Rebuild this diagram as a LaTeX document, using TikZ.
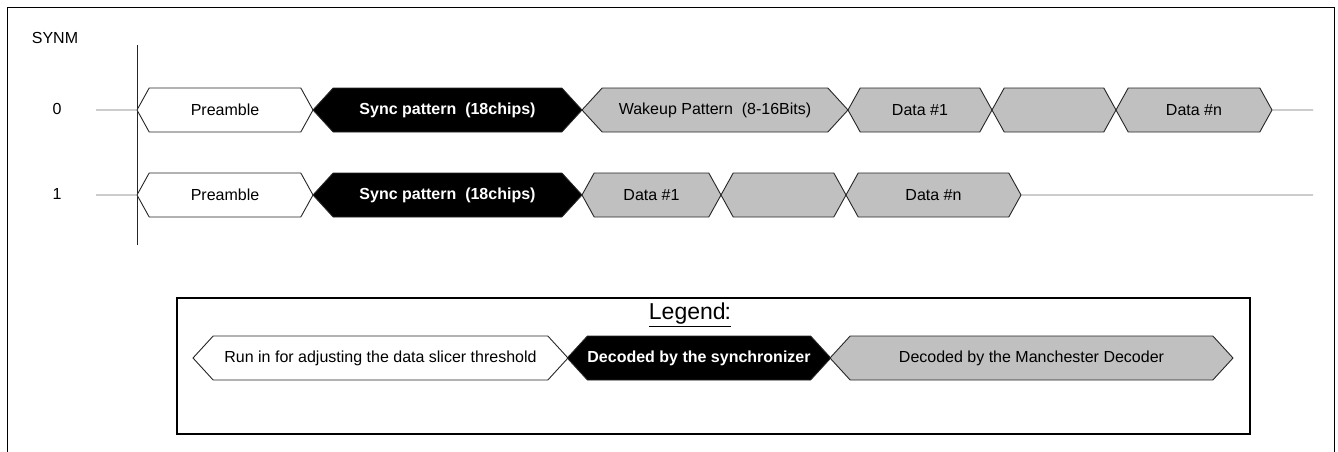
\documentclass[tikz,border=0pt]{standalone}
\usepackage{fontspec}
\setmainfont{Liberation Sans}
\usetikzlibrary{shapes.symbols, positioning}

\definecolor{chipgray}{RGB}{192,192,192}
\definecolor{wiregray}{RGB}{110,110,110}

\begin{document}
\begin{tikzpicture}[x=1pt, y=-1pt,
    field/.style={signal, signal to=west and east, draw=black!85, line width=0.9pt, minimum height=44pt, inner sep=0pt, font=\fontsize{16}{19}\selectfont, signal pointer angle=122},
    runin/.style={field, fill=white},
    syncfield/.style={field, fill=black, text=white, font=\fontsize{16}{19}\selectfont\bfseries, signal pointer angle=95},
    manch/.style={field, fill=chipgray},
    lbl/.style={font=\fontsize{16}{19}\selectfont},
    wire/.style={draw=wiregray, line width=0.9pt},
  ]
  \useasboundingbox (0,0) rectangle (1338,452);

  % frame, open at the bottom
  \draw[line width=1pt] (7,452) |- (1334,8) -- (1334,452);

  \node[lbl] (synm) at (55,38) {SYNM};
  \node[lbl] (lvl0) at (57,109) {0};
  \node[lbl] (lvl1) at (57,194) {1};

  \coordinate (axtop) at (137,45);
  \coordinate (axbot) at (137,245);
  \draw[line width=0.9pt, black!85] (axtop) -- (axbot);

  % SYNM = 0
  \node[runin, minimum width=176] (pre0) at (225,110) {Preamble};
  \node[syncfield, minimum width=269] (syn0) at (447.5,110) {Sync pattern~ (18chips)};
  \node[manch, signal pointer angle=95, minimum width=266] (wak0) at (715,110) {Wakeup Pattern~ (8-16Bits)};
  \node[manch, minimum width=144] (dat0) at (920,110) {Data \#1};
  \node[manch, minimum width=124] (gap0) at (1054,110) {};
  \node[manch, minimum width=156] (datn0) at (1194,110) {Data \#n};

  % SYNM = 1
  \node[runin, minimum width=176] (pre1) at (225,195) {Preamble};
  \node[syncfield, minimum width=269] (syn1) at (447.5,195) {Sync pattern~ (18chips)};
  \node[manch, minimum width=139] (dat1) at (651.5,195) {Data \#1};
  \node[manch, minimum width=125] (gap1) at (783.5,195) {};
  \node[manch, minimum width=175] (datn1) at (933.5,195) {Data \#n};

  \coordinate (lead0) at (96,110);
  \coordinate (lead1) at (96,195);
  \coordinate (tail0) at (1313,110);
  \coordinate (tail1) at (1313,195);
  \draw[wire] (lead0) -- (pre0);
  \draw[wire] (lead1) -- (pre1);
  \draw[wire] (datn0) -- (tail0);
  \draw[wire] (datn1) -- (tail1);

  % legend
  \node[draw, line width=2pt, inner sep=0pt, minimum width=1073, minimum height=136] (legbox) at (713.5,366) {};
  \node[font=\fontsize{23}{27}\selectfont] (legtitle) at (690,315) {\underline{Legend\kern-1pt:}};
  \node[runin, signal pointer angle=95, minimum width=375] (keyrun) at (380.5,358) {Run in for adjusting the data slicer threshold};
  \node[syncfield, minimum width=262] (keysync) at (699,358) {Decoded by the synchronizer};
  \node[manch, signal pointer angle=95, minimum width=403] (keyman) at (1031.5,358) {Decoded by the Manchester Decoder};
\end{tikzpicture}
\end{document}
